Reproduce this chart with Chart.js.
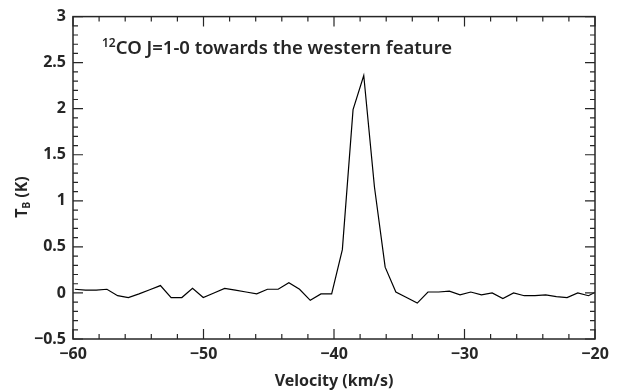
<!DOCTYPE html>
<html>
<head>
<meta charset="utf-8">
<script src="https://cdn.jsdelivr.net/npm/chart.js@4/dist/chart.umd.min.js"></script>
<style>
    body { margin: 0; background: #fff; }
</style>
</head>
<body>
<canvas id="spectrum" width="627" height="392"></canvas>
<script>
    // channel velocities (km/s) and brightness temperature (K)
    const velocities = [
        -59.86, -59.04, -58.22, -57.40, -56.58, -55.76, -54.94, -54.12, -53.30, -52.48,
        -51.66, -50.84, -50.02, -49.20, -48.38, -47.56, -46.74, -45.92, -45.10, -44.28,
        -43.46, -42.64, -41.82, -41.00, -40.18, -39.36, -38.54, -37.72, -36.90, -36.08,
        -35.26, -34.44, -33.62, -32.80, -31.98, -31.16, -30.34, -29.52, -28.70, -27.88,
        -27.06, -26.24, -25.42, -24.60, -23.78, -22.96, -22.14, -21.32, -20.50, -19.68
    ];
    const temperatures = [
        0.04, 0.03, 0.03, 0.04, -0.03, -0.05, -0.01, 0.035, 0.08, -0.05,
        -0.05, 0.05, -0.05, 0.0, 0.05, 0.03, 0.01, -0.01, 0.04, 0.04,
        0.11, 0.04, -0.08, -0.01, -0.01, 0.47, 1.99, 2.36, 1.15, 0.28,
        0.01, -0.05, -0.11, 0.01, 0.01, 0.02, -0.02, 0.01, -0.02, 0.0,
        -0.06, 0.0, -0.03, -0.03, -0.02, -0.04, -0.05, 0.0, -0.03, 0.03
    ];
    const xRange = [-60, -20];
    const yRange = [-0.5, 3];

    const FONT = '"Noto Sans", "DejaVu Sans", sans-serif';
    const INK = '#262626';

    const isMajor = (v, step) => Math.abs(v / step - Math.round(v / step)) < 1e-6;
    const fmt = v => {
        const r = Math.round(v * 10) / 10;
        return (r < 0 ? '\u2212' : '') + String(Math.abs(r));
    };

    // box with inward ticks on all four sides, plus the label texts
    const frame = {
        id: 'frame',
        afterDraw(chart) {
            const ctx = chart.ctx;
            const a = chart.chartArea;
            const xs = chart.scales.x;
            const ys = chart.scales.y;
            ctx.save();
            ctx.strokeStyle = INK;
            ctx.lineWidth = 1.5;
            ctx.strokeRect(a.left, a.top, a.right - a.left, a.bottom - a.top);
            ctx.lineWidth = 1.2;
            ctx.beginPath();
            xs.ticks.forEach(t => {
                const px = xs.getPixelForValue(t.value);
                const len = isMajor(t.value, 10) ? 10 : 5;
                ctx.moveTo(px, a.bottom); ctx.lineTo(px, a.bottom - len);
                ctx.moveTo(px, a.top); ctx.lineTo(px, a.top + len);
            });
            ys.ticks.forEach(t => {
                const py = ys.getPixelForValue(t.value);
                const len = isMajor(t.value, 0.5) ? 10 : 5;
                ctx.moveTo(a.left, py); ctx.lineTo(a.left + len, py);
                ctx.moveTo(a.right, py); ctx.lineTo(a.right - len, py);
            });
            ctx.stroke();

            // title inside the plot
            ctx.fillStyle = INK;
            ctx.textBaseline = 'alphabetic';
            let tx = a.left + 29;
            const ty = a.top + 37;
            ctx.font = '600 12px ' + FONT;
            ctx.fillText('12', tx, ty - 7);
            tx += ctx.measureText('12').width;
            ctx.font = '600 18.5px ' + FONT;
            ctx.fillText('CO J=1-0 towards the western feature', tx, ty);

            // y axis title with subscript
            ctx.translate(21, 197);
            ctx.rotate(-Math.PI / 2);
            ctx.font = 'bold 16px ' + FONT;
            const w1 = ctx.measureText('T').width;
            ctx.font = 'bold 10px ' + FONT;
            const w2 = ctx.measureText('B').width;
            ctx.font = 'bold 16px ' + FONT;
            const w3 = ctx.measureText(' (K)').width;
            let sx = -(w1 + w2 + w3) / 2;
            ctx.fillText('T', sx, 6);
            sx += w1;
            ctx.font = 'bold 10px ' + FONT;
            ctx.fillText('B', sx, 9);
            sx += w2;
            ctx.font = 'bold 16px ' + FONT;
            ctx.fillText(' (K)', sx, 6);
            ctx.restore();
        }
    };

    new Chart(
        document.getElementById('spectrum'),
        {
            type: 'line',
            data: {
                datasets: [{
                    data: velocities.map((v, i) => ({ x: v, y: temperatures[i] })),
                    borderColor: '#000',
                    borderWidth: 1.2,
                    pointRadius: 0,
                    tension: 0
                }]
            },
            options: {
                responsive: false,
                animation: false,
                layout: {
                    padding: { top: 16, right: 32, left: 0, bottom: 0 }
                },
                plugins: {
                    legend: { display: false },
                    tooltip: { enabled: false }
                },
                scales: {
                    x: {
                        type: 'linear',
                        min: xRange[0],
                        max: xRange[1],
                        afterFit: s => { s.height = 53; },
                        grid: { display: false, drawTicks: false },
                        border: { display: false },
                        ticks: {
                            stepSize: 2,
                            autoSkip: false,
                            maxRotation: 0,
                            padding: 6,
                            color: INK,
                            font: { family: FONT, size: 16, weight: 'bold' },
                            callback: v => isMajor(v, 10) ? fmt(v) : ''
                        },
                        title: {
                            display: true,
                            text: 'Velocity (km/s)',
                            color: INK,
                            font: { family: FONT, size: 16, weight: 'bold' },
                            padding: { top: 0, bottom: 1 }
                        }
                    },
                    y: {
                        type: 'linear',
                        min: yRange[0],
                        max: yRange[1],
                        afterFit: s => { s.width = 73; },
                        grid: { display: false, drawTicks: false },
                        border: { display: false },
                        ticks: {
                            stepSize: 0.1,
                            autoSkip: false,
                            padding: 7,
                            color: INK,
                            font: { family: FONT, size: 16, weight: 'bold' },
                            callback: v => isMajor(v, 0.5) ? fmt(v) : ''
                        }
                    }
                }
            },
            plugins: [frame]
        }
    );
</script>
</body>
</html>
